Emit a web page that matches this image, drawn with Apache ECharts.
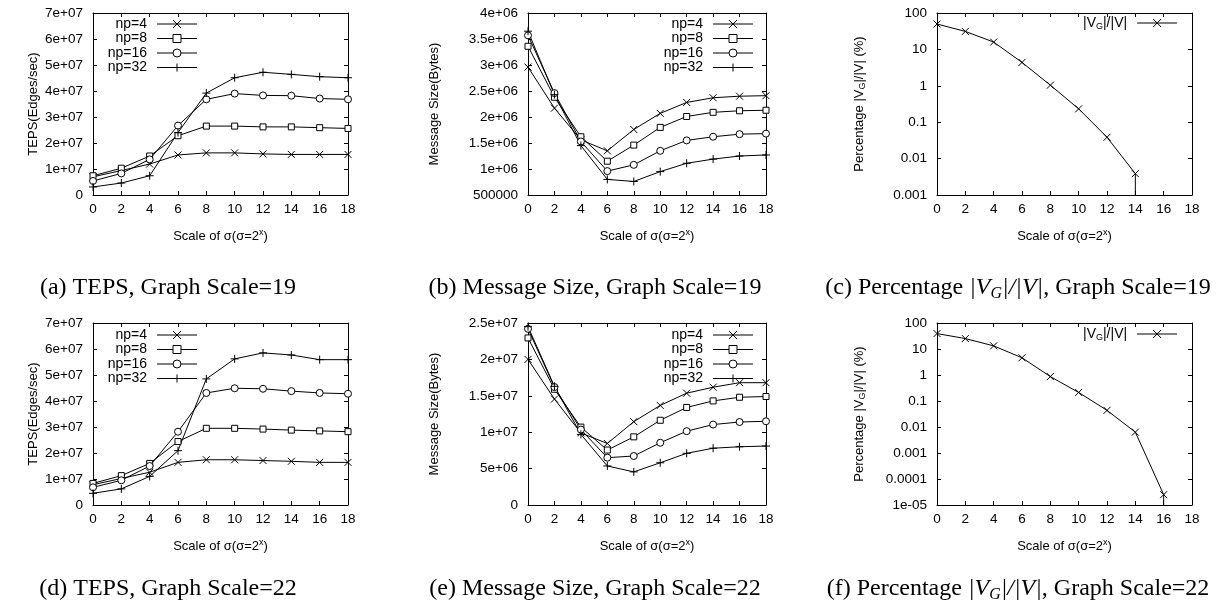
<!DOCTYPE html>
<html>
<head>
<meta charset="utf-8">
<script src="https://cdn.jsdelivr.net/npm/echarts@6/dist/echarts.min.js"></script>
<style>
html, body { margin: 0; padding: 0; background: #fff; }
#main { width: 1228px; height: 605px; }
</style>
</head>
<body>
<div id="main"></div>
<script>
// x values: scale of sigma (sigma = 2^x)
var sigma = [0, 2, 4, 6, 8, 10, 12, 14, 16, 18];
var xRange = [0, 18, 2];
var npNames = ['np=4', 'np=8', 'np=16', 'np=32'];

// (a) TEPS, graph scale 19
var teps19np4 = [7.0e6, 9.4e6, 11.9e6, 15.4e6, 16.2e6, 16.2e6, 15.8e6, 15.6e6, 15.6e6, 15.6e6];
var teps19np8 = [7.4e6, 10.3e6, 15.0e6, 22.8e6, 26.5e6, 26.5e6, 26.2e6, 26.2e6, 25.9e6, 25.6e6];
var teps19np16 = [5.4e6, 8.3e6, 13.7e6, 26.7e6, 36.8e6, 39.0e6, 38.3e6, 38.2e6, 37.1e6, 36.8e6];
var teps19np32 = [3.1e6, 4.6e6, 7.4e6, 24.0e6, 39.2e6, 45.1e6, 47.2e6, 46.4e6, 45.5e6, 45.1e6];

// (b) message size, graph scale 19
var msg19np4 = [2.96e6, 2.17e6, 1.56e6, 1.35e6, 1.76e6, 2.07e6, 2.28e6, 2.37e6, 2.40e6, 2.41e6];
var msg19np8 = [3.36e6, 2.38e6, 1.62e6, 1.15e6, 1.46e6, 1.80e6, 2.01e6, 2.09e6, 2.12e6, 2.13e6];
var msg19np16 = [3.57e6, 2.46e6, 1.53e6, 0.96e6, 1.08e6, 1.35e6, 1.55e6, 1.62e6, 1.67e6, 1.68e6];
var msg19np32 = [3.65e6, 2.43e6, 1.45e6, 0.80e6, 0.76e6, 0.95e6, 1.11e6, 1.19e6, 1.25e6, 1.27e6];

// (c) percentage |VG|/|V|, graph scale 19 (last point: curve drops to the axis floor)
var pct19x = [0, 2, 4, 6, 8, 10, 12, 14, 14];
var pct19 = [49.8, 31.2, 15.9, 4.39, 1.04, 0.233, 0.0386, 0.00386, 0.001];

// (d) TEPS, graph scale 22
var teps22np4 = [7.8e6, 10.2e6, 12.6e6, 16.4e6, 17.4e6, 17.4e6, 17.1e6, 16.8e6, 16.4e6, 16.4e6];
var teps22np8 = [8.3e6, 11.3e6, 16.0e6, 24.4e6, 29.5e6, 29.5e6, 29.2e6, 28.8e6, 28.5e6, 28.2e6];
var teps22np16 = [6.8e6, 9.5e6, 15.0e6, 28.2e6, 43.1e6, 44.9e6, 44.7e6, 43.8e6, 43.1e6, 42.8e6];
var teps22np32 = [4.5e6, 6.2e6, 11.0e6, 20.9e6, 48.5e6, 56.2e6, 58.5e6, 57.7e6, 55.9e6, 55.9e6];

// (e) message size, graph scale 22
var msg22np4 = [2.00e7, 1.455e7, 0.99e7, 0.845e7, 1.145e7, 1.368e7, 1.536e7, 1.618e7, 1.68e7, 1.68e7];
var msg22np8 = [2.295e7, 1.59e7, 1.07e7, 0.755e7, 0.936e7, 1.164e7, 1.34e7, 1.43e7, 1.48e7, 1.49e7];
var msg22np16 = [2.42e7, 1.62e7, 1.036e7, 0.65e7, 0.673e7, 0.855e7, 1.014e7, 1.105e7, 1.14e7, 1.15e7];
var msg22np32 = [2.45e7, 1.63e7, 0.97e7, 0.536e7, 0.455e7, 0.58e7, 0.71e7, 0.78e7, 0.80e7, 0.81e7];

// (f) percentage |VG|/|V|, graph scale 22
var pct22x = [0, 2, 4, 6, 8, 10, 12, 14, 16, 16];
var pct22 = [39.2, 25.2, 13.2, 4.6, 0.87, 0.213, 0.0437, 0.00634, 2.5e-5, 1e-5];

// axis ranges [min, max, step]
var tepsRange = [0, 7e7, 1e7];
var msg19Range = [5e5, 4e6, 5e5];
var msg22Range = [0, 2.5e7, 5e6];
var pct19Range = [0.001, 100];
var pct22Range = [1e-5, 100];

var FONT = '"Liberation Sans", Arial, sans-serif';
var SERIF = '"Liberation Serif", "DejaVu Serif", serif';
// gnuplot point types: x, open square, open circle, +
var xMark = 'path://M0,0L10,10M10,0L0,10';
var boxMark = 'path://M0,0L10,0L10,10L0,10Z';
var ringMark = 'path://M10,5A5,5,0,1,1,0,5A5,5,0,1,1,10,5Z';
var plusMark = 'path://M5,0L5,10M0,5L10,5';
var npSymbols = [[xMark, 7], [boxMark, 6], [ringMark, 7], [plusMark, 8]];

var option = {
  animation: false,
  backgroundColor: '#fff',
  grid: [], xAxis: [], yAxis: [], series: [], legend: [], graphic: []
};

// gnuplot style %g labels
function gfmt(v) {
  if (v === 0) return '0';
  var e = Math.floor(Math.log10(Math.abs(v)) + 1e-9);
  if (e < -4 || e >= 6) {
    var m = +(v / Math.pow(10, e)).toPrecision(6);
    return m + 'e' + (e < 0 ? '-' : '+') + (Math.abs(e) < 10 ? '0' : '') + Math.abs(e);
  }
  return String(+v.toPrecision(6));
}

var subRich = {
  sub: { fontSize: 9, fontFamily: FONT, verticalAlign: 'bottom', lineHeight: 9 },
  sup: { fontSize: 9, fontFamily: FONT, verticalAlign: 'top', lineHeight: 9 }
};

function addPanel(box, yr, isLog, yName, yGap, seriesList, legendCfg) {
  var g = option.grid.length;
  option.grid.push({ left: box[0], top: box[1], width: box[2], height: box[3], containLabel: false, outerBoundsMode: 'none' });
  var xi = option.xAxis.length, yi = option.yAxis.length;
  var line = { show: true, onZero: false, lineStyle: { color: '#000', width: 1 } };
  var tick = { show: true, inside: true, length: 4, lineStyle: { color: '#000', width: 1 } };
  var xBase = { gridIndex: g, type: 'value', min: xRange[0], max: xRange[1], interval: xRange[2], axisLine: line, axisTick: tick, splitLine: { show: false } };
  option.xAxis.push(Object.assign({}, xBase, {
    position: 'bottom',
    axisLabel: { color: '#000', fontFamily: FONT, fontSize: 13.5, margin: 7 },
    name: 'Scale of σ(σ=2{sup|x})', nameLocation: 'middle', nameGap: 33,
    nameTextStyle: { color: '#000', fontFamily: FONT, fontSize: 13, lineHeight: 16, rich: subRich }
  }));
  option.xAxis.push(Object.assign({}, xBase, { position: 'top', axisLabel: { show: false } }));
  var yBase = isLog
    ? { gridIndex: g, type: 'log', logBase: 10, min: yr[0], max: yr[1], splitNumber: 8 }
    : { gridIndex: g, type: 'value', min: yr[0], max: yr[1], interval: yr[2] };
  Object.assign(yBase, { axisLine: line, axisTick: tick, splitLine: { show: false } });
  option.yAxis.push(Object.assign({}, yBase, {
    position: 'left',
    axisLabel: { color: '#000', fontFamily: FONT, fontSize: 13.5, margin: 10, formatter: gfmt },
    name: yName, nameLocation: 'middle', nameGap: yGap,
    nameTextStyle: { color: '#000', fontFamily: FONT, fontSize: 13, lineHeight: 16, rich: subRich }
  }));
  option.yAxis.push(Object.assign({}, yBase, { position: 'right', axisLabel: { show: false } }));

  seriesList.forEach(function (s) {
    option.series.push({
      type: 'line', name: s.name, xAxisIndex: xi, yAxisIndex: yi,
      data: s.x.map(function (x, i) {
        var item = { value: [x, s.y[i]] };
        if (s.noMark && i === s.x.length - 1) item.symbol = 'none';
        return item;
      }),
      symbol: s.symbol,
      symbolSize: s.size,
      lineStyle: { color: '#000', width: 1 },
      itemStyle: { color: '#fff', borderColor: '#000', borderWidth: 1 },
      emphasis: { disabled: true }
    });
  });

  option.legend.push(Object.assign({
    orient: 'vertical', align: 'right', selectedMode: false,
    itemWidth: 40, itemHeight: 10, itemGap: 0.5,
    data: legendCfg.names,
    lineStyle: { width: 1, color: '#000' },
    itemStyle: { color: '#fff', borderWidth: 1, borderColor: '#000' },
    textStyle: { color: '#000', fontFamily: FONT, fontSize: 14 }
  }, legendCfg.opts));
}

function npSeries(arrs) {
  return arrs.map(function (a, i) {
    return { name: npNames[i], x: sigma, y: a, symbol: npSymbols[i][0], size: npSymbols[i][1] };
  });
}

var npLegendText = {
  formatter: function (n) { return '{t|' + n + '}'; },
  textStyle: { color: '#000', fontFamily: FONT, fontSize: 14,
    rich: { t: { width: 44, align: 'right', fontSize: 14, fontFamily: FONT, lineHeight: 14, padding: [0, 5, 0, 0] } } }
};
var vgLegendText = {
  formatter: function () { return '{t||V}{s|G}{e||/|V|}'; },
  textStyle: { color: '#000', fontFamily: FONT, fontSize: 14,
    rich: { t: { fontSize: 14, fontFamily: FONT, lineHeight: 16 },
            s: { fontSize: 9, fontFamily: FONT, verticalAlign: 'bottom', lineHeight: 9 },
            e: { fontSize: 14, fontFamily: FONT, lineHeight: 16, padding: [0, 5, 0, 0] } } }
};
var vgName = 'VG';
var pctName = 'Percentage |V{sub|G}|/|V| (%)';

var topRow = 13, botRow = 323, rowH = 182;

// (a)
addPanel([93, topRow, 255, rowH], tepsRange, false, 'TEPS(Edges/sec)', 52,
  npSeries([teps19np4, teps19np8, teps19np16, teps19np32]),
  { names: npNames, opts: Object.assign({ left: 98, top: 12 }, npLegendText) });
// (b)
addPanel([528, topRow, 238, rowH], msg19Range, false, 'Message Size(Bytes)', 86,
  npSeries([msg19np4, msg19np8, msg19np16, msg19np32]),
  { names: npNames, opts: Object.assign({ left: 654, top: 12 }, npLegendText) });
// (c)
addPanel([937, topRow, 255, rowH], pct19Range, true, pctName, 70,
  [{ name: vgName, x: pct19x, y: pct19, symbol: xMark, size: 7, noMark: true }],
  { names: [vgName], opts: Object.assign({ left: 1078, top: 11 }, vgLegendText) });
// (d)
addPanel([93, botRow, 255, rowH], tepsRange, false, 'TEPS(Edges/sec)', 52,
  npSeries([teps22np4, teps22np8, teps22np16, teps22np32]),
  { names: npNames, opts: Object.assign({ left: 98, top: 323 }, npLegendText) });
// (e)
addPanel([528, botRow, 238, rowH], msg22Range, false, 'Message Size(Bytes)', 86,
  npSeries([msg22np4, msg22np8, msg22np16, msg22np32]),
  { names: npNames, opts: Object.assign({ left: 654, top: 323 }, npLegendText) });
// (f)
addPanel([937, botRow, 255, rowH], pct22Range, true, pctName, 70,
  [{ name: vgName, x: pct22x, y: pct22, symbol: xMark, size: 7, noMark: true }],
  { names: [vgName], opts: Object.assign({ left: 1078, top: 322 }, vgLegendText) });

// sub-figure captions
var capRich = {
  n: { fontFamily: SERIF, fontSize: 24, lineHeight: 28 },
  m: { fontFamily: SERIF, fontSize: 24, fontStyle: 'italic', lineHeight: 28 },
  ms: { fontFamily: SERIF, fontSize: 16, fontStyle: 'italic', verticalAlign: 'bottom', lineHeight: 16 }
};
var captions = [
  [168, 288, '{n|(a) TEPS, Graph Scale=19}'],
  [595, 288, '{n|(b) Message Size, Graph Scale=19}'],
  [1018, 288, '{n|(c) Percentage }{m||V}{ms|G}{m||/|V|}{n|, Graph Scale=19}'],
  [168, 589, '{n|(d) TEPS, Graph Scale=22}'],
  [595, 589, '{n|(e) Message Size, Graph Scale=22}'],
  [1018, 589, '{n|(f) Percentage }{m||V}{ms|G}{m||/|V|}{n|, Graph Scale=22}']
];
captions.forEach(function (c) {
  option.graphic.push({
    type: 'text', x: c[0], y: c[1], silent: true,
    style: { text: c[2], rich: capRich, fill: '#000', align: 'center', verticalAlign: 'middle' }
  });
});

var chart = echarts.init(document.getElementById('main'), null, { renderer: 'canvas' });
chart.setOption(option);
</script>
</body>
</html>
